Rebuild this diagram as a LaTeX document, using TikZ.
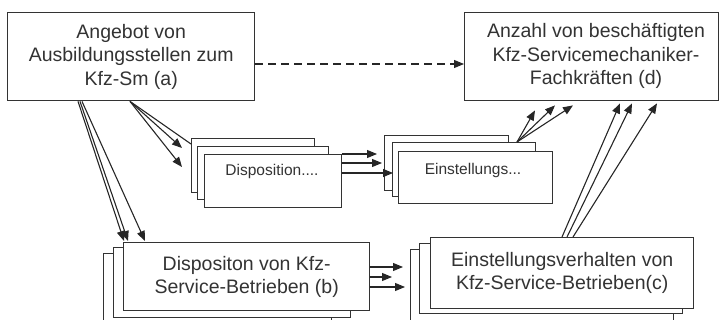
\documentclass[tikz,border=0pt]{standalone}
\usepackage{fontspec}
\setmainfont{Liberation Sans}
\usetikzlibrary{arrows.meta,calc}
\begin{document}
\begin{tikzpicture}[x=1pt,y=-1pt,
  box/.style={draw=black!80, line width=1.4pt, fill=white, inner sep=0pt, anchor=north west},
  conn/.style={draw=black!85, line width=1.1pt},
  arr/.style={conn, -{Triangle[length=10pt,width=8pt]}},
  dasharr/.style={arr, dash pattern=on 8pt off 5pt},
  lbl/.style={font=\fontsize{19.5}{23.4}\selectfont, text=black!80, align=center},
  smalllbl/.style={font=\fontsize{15.5}{18}\selectfont, text=black!80, anchor=base}]
\clip (0,0) rectangle (719,320);
% top boxes
\node[box, lbl, minimum width=247pt, minimum height=88pt] (a) at (7,12)
  {Angebot von\\Ausbildungsstellen zum\\Kfz-Sm (a)};
\node[box, minimum width=254pt, minimum height=88pt] (d) at (464,12) {};
\node[lbl] (dtext) at (596,56) {Anzahl von beschäftigten\\Kfz-Servicemechaniker-\\Fachkräften (d)};
% Disposition stack
\node[box, minimum width=123pt, minimum height=54pt] (dispB) at (191,138) {};
\node[box, minimum width=131pt, minimum height=53pt] (dispM) at (197,146) {};
\node[box, minimum width=137pt, minimum height=53pt] (dispF) at (204,154) {};
\node[smalllbl] (disptext) at (272,176) {Disposition....};
% Einstellungs stack
\node[box, minimum width=124pt, minimum height=55pt] (einB) at (384,135) {};
\node[box, minimum width=143pt, minimum height=54pt] (einM) at (392,142) {};
\node[box, minimum width=154pt, minimum height=52pt] (einF) at (398,151) {};
\node[smalllbl] (eintext) at (473,175) {Einstellungs...};
% b stack
\node[box, minimum width=228pt, minimum height=80pt] (bB) at (103,253) {};
\node[box, minimum width=237pt, minimum height=70pt] (bM) at (113,247) {};
\node[box, lbl, minimum width=246pt, minimum height=68pt] (bF) at (123,242)
  {Dispositon von Kfz-\\Service-Betrieben (b)};
% c stack
\node[box, minimum width=263pt, minimum height=80pt] (cB) at (410,249) {};
\node[box, minimum width=263pt, minimum height=70pt] (cM) at (419,243) {};
\node[box, lbl, minimum width=263pt, minimum height=71pt] (cF) at (430,237)
  {Einstellungsverhalten von\\Kfz-Service-Betrieben(c)};
% dashed a -> d
\draw[dasharr] ($(a.north east)+(0,52)$) -- ($(d.north west)+(0,52)$);
% a -> Disposition stack
\draw[conn] ($(a.south west)+(123,0)$) -- ($(dispB.north west)+(0,6)$);
\draw[arr] ($(a.south west)+(123,0)$) -- ($(dispM.north west)+(-15,2)$);
\draw[arr] ($(a.south west)+(123,0)$) -- ($(dispF.north west)+(-22,13)$);
% a -> b stack
\draw[arr] ($(a.south west)+(71,0)$) -- ($(bM.north west)+(11,-6)$);
\draw[arr] ($(a.south west)+(73,0)$) -- ($(bF.north west)+(5,-1)$);
\draw[arr] ($(a.south west)+(75,0)$) -- ($(bF.north west)+(22,-1)$);
% Disposition -> Einstellungs
\coordinate (s1) at ($(dispF.north east)+(0,0)$);
\coordinate (s2) at ($(dispF.north east)+(0,9)$);
\coordinate (s3) at ($(dispF.north east)+(0,19)$);
\draw[arr] (s1) -- ($(einB.west |- s1)+(-7,0)$);
\draw[arr] (s2) -- ($(einM.west |- s2)+(-10,0)$);
\draw[arr] (s3) -- ($(einF.west |- s3)+(-5,0)$);
% Einstellungs -> d
\draw[arr] ($(einM.north west)+(125,0)$) -- ($(d.south west)+(71,9)$);
\draw[arr] ($(einM.north west)+(125,0)$) -- ($(d.south west)+(91,4)$);
\draw[arr] ($(einM.north west)+(125,0)$) -- ($(d.south west)+(109,4)$);
% b -> c
\coordinate (t1) at ($(bF.north east)+(0,25)$);
\coordinate (t2) at ($(bF.north east)+(0,35)$);
\coordinate (t3) at ($(bF.north east)+(0,45)$);
\draw[arr] (t1) -- ($(cB.west |- t1)+(-7,0)$);
\draw[arr] (t2) -- ($(cB.west |- t2)+(-18,0)$);
\draw[arr] (t3) -- ($(cB.west |- t3)+(-5,0)$);
% c -> d
\draw[arr] ($(cF.north west)+(132,0)$) -- ($(d.south west)+(156,2)$);
\draw[arr] ($(cF.north west)+(137,0)$) -- ($(d.south west)+(168,2)$);
\draw[arr] ($(cF.north west)+(143,0)$) -- ($(d.south west)+(193,2)$);
\end{tikzpicture}
\end{document}
